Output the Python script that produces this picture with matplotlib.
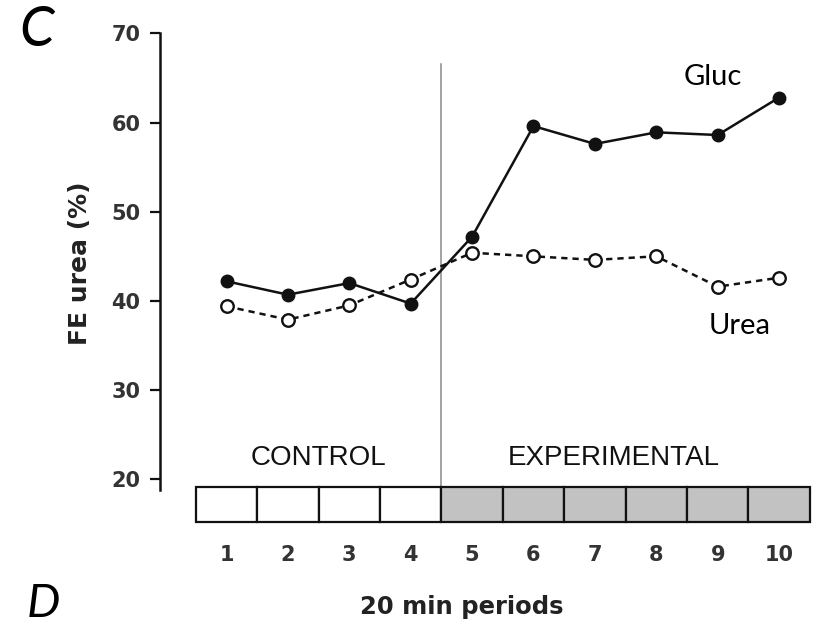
import numpy as np
import matplotlib
matplotlib.use("Agg")
import matplotlib.pyplot as plt
import matplotlib.patches as patches

# data
periods = [1, 2, 3, 4, 5, 6, 7, 8, 9, 10]
gluc = [42.2, 40.7, 42.0, 39.7, 47.2, 59.6, 57.6, 58.9, 58.6, 62.8]
urea = [39.4, 37.9, 39.5, 42.4, 45.4, 45.0, 44.6, 45.0, 41.6, 42.6]
y_ticks = [20, 30, 40, 50, 60, 70]
n_control = 4

fig = plt.figure(figsize=(8.21, 6.28), dpi=100)
ax = fig.add_axes([0.1949, 0.1656, 0.7978, 0.7866])
ax.set_xlim(-0.083, 10.585)
ax.set_ylim(14.99, 70.37)

# series
ax.plot(periods, urea, color="#111111", lw=1.8, ls=(0, (2.5, 2)),
        marker="o", ms=9, mfc="white", mec="#111111", mew=1.7, zorder=3)
ax.plot(periods, gluc, color="#111111", lw=1.8, ls="-",
        marker="o", ms=9, mfc="#111111", mec="#111111", zorder=4)

# divider between control and experimental
ax.plot([n_control + 0.49, n_control + 0.49], [19.14, 66.6], color="#8a8a8a", lw=1.1, zorder=1)

# period boxes
for p in periods:
    fc = "white" if p <= n_control else "#c2c2c2"
    ax.add_patch(patches.Rectangle((p - 0.5, 15.25), 1.0, 3.89, facecolor=fc,
                                   edgecolor="#111111", lw=1.6, clip_on=False, zorder=2))

ax.text(2.5, 22.39, "CONTROL", ha="center", va="center", fontsize=20,
        family=["Liberation Sans", "DejaVu Sans"], color="#111111")
ax.text(7.31, 22.39, "EXPERIMENTAL", ha="center", va="center", fontsize=20,
        family=["Liberation Sans", "DejaVu Sans"], color="#111111")

ax.text(8.92, 65.1, "Gluc", ha="center", va="center", fontsize=21, family=["Lato", "DejaVu Sans"])
ax.text(9.36, 37.2, "Urea", ha="center", va="center", fontsize=21, family=["Lato", "DejaVu Sans"])

# axes styling
for s in ["top", "right", "bottom"]:
    ax.spines[s].set_visible(False)
ax.spines["left"].set_bounds(18.8, 70)
ax.spines["left"].set_linewidth(1.8)
ax.spines["left"].set_color("#111111")
ax.set_yticks(y_ticks)
ax.set_yticklabels([str(v) for v in y_ticks])
ax.tick_params(axis="y", length=7, width=1.6, color="#111111", pad=7,
               labelsize=15, labelcolor="#333333")
ax.set_xticks(periods)
ax.set_xticklabels([str(p) for p in periods])
ax.tick_params(axis="x", length=0, pad=15, labelsize=15, labelcolor="#333333")
for lab in ax.get_xticklabels() + ax.get_yticklabels():
    lab.set_fontweight("bold")

fig.text(80 / 821, 1 - 263 / 628, "FE urea (%)", rotation=90, ha="center", va="center",
         fontsize=18, fontweight="bold", color="#222222")
fig.text(462 / 821, 1 - 607 / 628, "20 min periods", ha="center", va="center",
         fontsize=17.5, fontweight="bold", color="#222222")

fig.text(37 / 821, 1 - 30 / 628, "C", ha="center", va="center", fontsize=40,
         style="italic", family=["Lato", "DejaVu Sans"])
fig.text(43 / 821, 1 - 617 / 628, "D", ha="center", va="baseline", fontsize=34,
         style="italic", family=["Lato", "DejaVu Sans"])

fig.savefig("out.png", dpi=100)
